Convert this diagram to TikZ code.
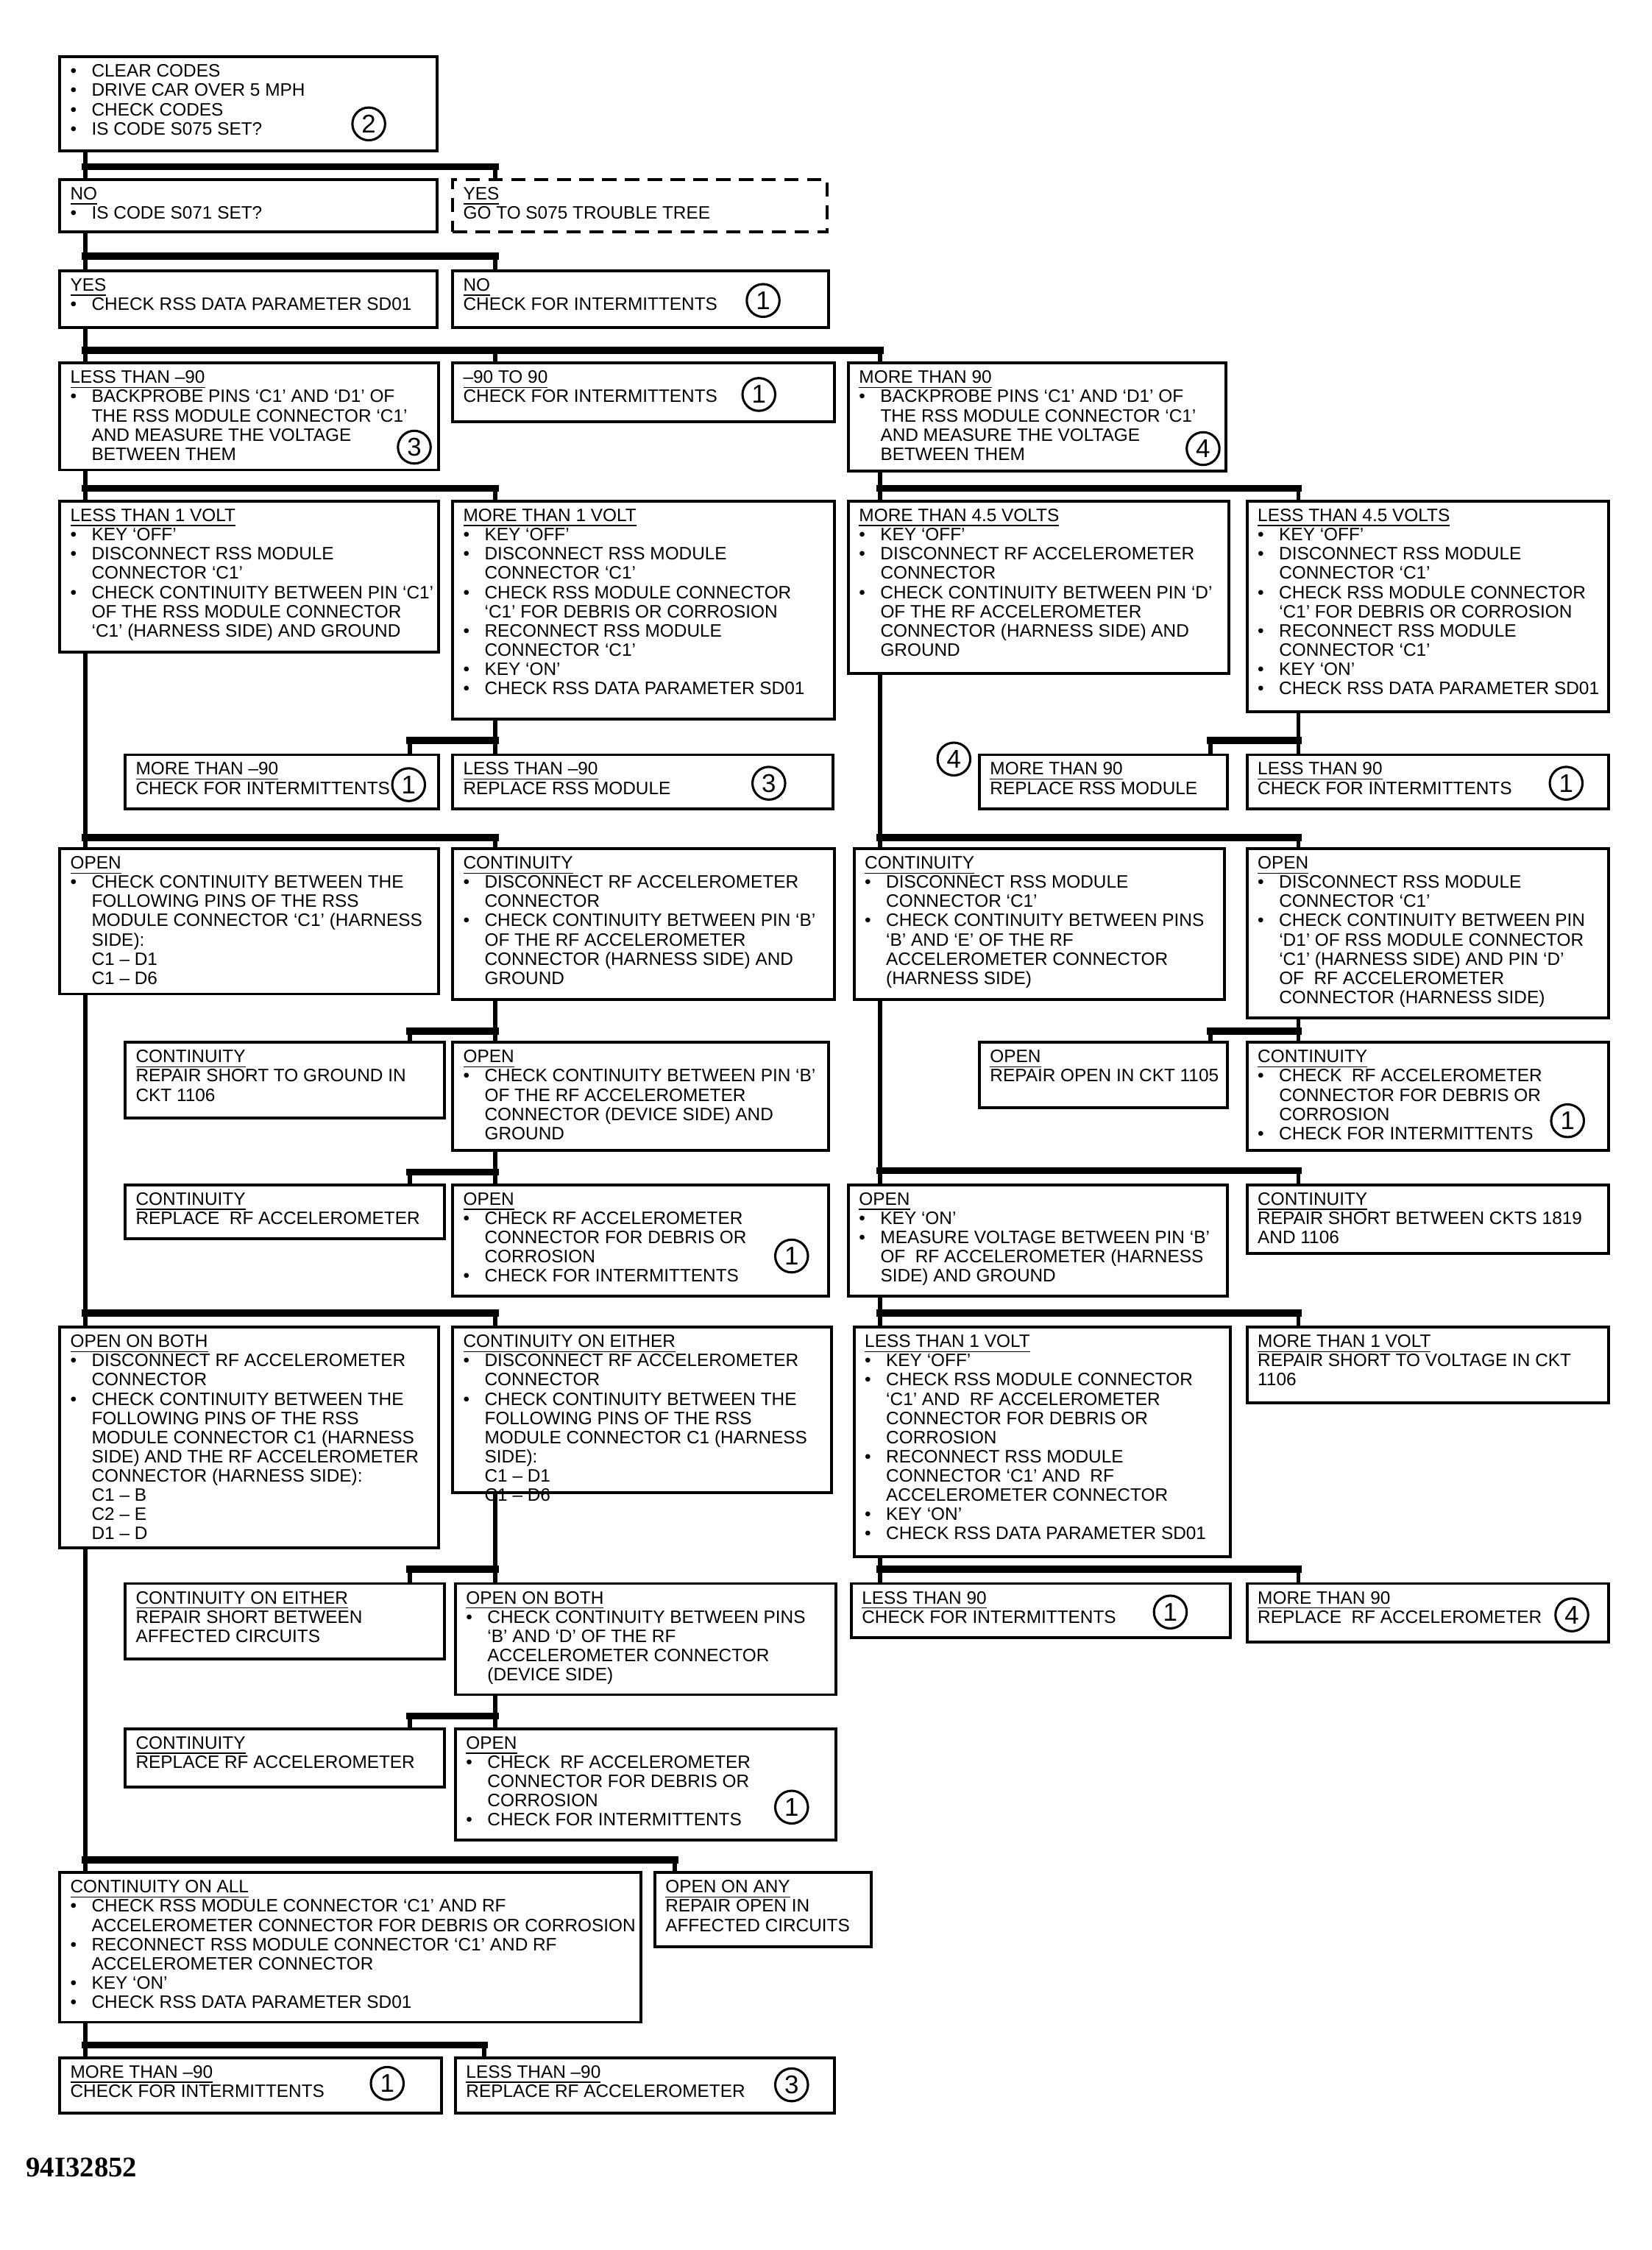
\documentclass[tikz,border=0pt]{standalone}
\usepackage{fontspec}
\setmainfont{Liberation Sans}
\newfontfamily\serifb{Liberation Serif}
\usetikzlibrary{fit}
\newcommand\bl{\makebox[7.5pt][l]{\textbullet}}
\newcommand\ct{\hspace*{7.5pt}}
\newcommand\hd[1]{\underline{#1}}
\newcommand\bx[7][]{%
  \coordinate (#2a) at (#3,#4);\coordinate (#2b) at (#5,#6);
  \node[box,#1,fit=(#2a)(#2b)] (#2) {};
  \node[txt] (#2t) at ([xshift=4pt,yshift=-3pt]#2.north west) {#7};}
\begin{document}
\begin{tikzpicture}[x=0.5pt,y=-0.5pt,
 box/.style={draw,line width=1pt,inner sep=0},
 txt/.style={inner sep=0,align=left,font=\fontsize{6.3}{6.75}\selectfont,anchor=north west},
 num/.style={circle,draw,line width=0.8pt,inner sep=0,minimum size=11.5pt,font=\fontsize{9}{9}\selectfont},
 vl/.style={line width=1.5pt},
 bar/.style={line width=2.5pt,line cap=rect}]
\useasboundingbox (0,0) rectangle (1160,1580);
\coordinate (cA) at (60,0);\coordinate (cB) at (348,0);\coordinate (cC) at (618,0);
\coordinate (cD) at (912,0);\coordinate (cBl) at (288,0);\coordinate (cDl) at (850,0);
\coordinate (cE) at (474,0);\coordinate (cF) at (340,0);

\bx{b1}{42}{40}{307}{106}{\bl CLEAR CODES\\\bl DRIVE CAR OVER 5 MPH\\\bl CHECK CODES\\\bl IS CODE S075 SET?}
\node[num] (n1) at (259,87) {2};
\bx{b2}{42}{126}{307}{163}{\hd{NO}\\\bl IS CODE S071 SET?}
\bx[dash pattern=on 5pt off 3pt]{b3}{318}{126}{581}{163}{\hd{YES}\\GO TO S075 TROUBLE TREE}
\bx{b4}{42}{190}{307}{230}{\hd{YES}\\\bl CHECK RSS DATA PARAMETER SD01}
\bx{b5}{318}{190}{582}{230}{\hd{NO}\\CHECK FOR INTERMITTENTS}
\node[num] (n2) at (536,211) {1};
\bx{b6}{42}{255}{308}{330}{\hd{LESS THAN --90}\\\bl BACKPROBE PINS `C1' AND `D1' OF\\\ct THE RSS MODULE CONNECTOR `C1'\\\ct AND MEASURE THE VOLTAGE\\\ct BETWEEN THEM}
\node[num] (n3) at (291,314) {3};
\bx{b7}{318}{255}{586}{296}{\hd{--90 TO 90}\\CHECK FOR INTERMITTENTS}
\node[num] (n4) at (533,277) {1};
\bx{b8}{596}{255}{861}{331}{\hd{MORE THAN 90}\\\bl BACKPROBE PINS `C1' AND `D1' OF\\\ct THE RSS MODULE CONNECTOR `C1'\\\ct AND MEASURE THE VOLTAGE\\\ct BETWEEN THEM}
\node[num] (n5) at (845,315) {4};
\bx{b9}{42}{352}{308}{458}{\hd{LESS THAN 1 VOLT}\\\bl KEY `OFF'\\\bl DISCONNECT RSS MODULE\\\ct CONNECTOR `C1'\\\bl CHECK CONTINUITY BETWEEN PIN `C1'\\\ct OF THE RSS MODULE CONNECTOR\\\ct `C1' (HARNESS SIDE) AND GROUND}
\bx{b10}{318}{352}{586}{505}{\hd{MORE THAN 1 VOLT}\\\bl KEY `OFF'\\\bl DISCONNECT RSS MODULE\\\ct CONNECTOR `C1'\\\bl CHECK RSS MODULE CONNECTOR\\\ct `C1' FOR DEBRIS OR CORROSION\\\bl RECONNECT RSS MODULE\\\ct CONNECTOR `C1'\\\bl KEY `ON'\\\bl CHECK RSS DATA PARAMETER SD01}
\bx{b11}{596}{352}{863}{473}{\hd{MORE THAN 4.5 VOLTS}\\\bl KEY `OFF'\\\bl DISCONNECT RF ACCELEROMETER\\\ct CONNECTOR\\\bl CHECK CONTINUITY BETWEEN PIN `D'\\\ct OF THE RF ACCELEROMETER\\\ct CONNECTOR (HARNESS SIDE) AND\\\ct GROUND}
\bx{b12}{876}{352}{1130}{500}{\hd{LESS THAN 4.5 VOLTS}\\\bl KEY `OFF'\\\bl DISCONNECT RSS MODULE\\\ct CONNECTOR `C1'\\\bl CHECK RSS MODULE CONNECTOR\\\ct `C1' FOR DEBRIS OR CORROSION\\\bl RECONNECT RSS MODULE\\\ct CONNECTOR `C1'\\\bl KEY `ON'\\\bl CHECK RSS DATA PARAMETER SD01}
\bx{b13}{88}{530}{308}{568}{\hd{MORE THAN --90}\\CHECK FOR INTERMITTENTS}
\node[num] (n6) at (287,551) {1};
\bx{b14}{318}{530}{585}{568}{\hd{LESS THAN --90}\\REPLACE RSS MODULE}
\node[num] (n7) at (540,550) {3};
\bx{b15}{688}{530}{862}{568}{\hd{MORE THAN 90}\\REPLACE RSS MODULE}
\node[num] (n8) at (670,533) {4};
\bx{b16}{876}{530}{1130}{568}{\hd{LESS THAN 90}\\CHECK FOR INTERMITTENTS}
\node[num] (n9) at (1100,550) {1};
\bx{b17}{42}{596}{308}{698}{\hd{OPEN}\\\bl CHECK CONTINUITY BETWEEN THE\\\ct FOLLOWING PINS OF THE RSS\\\ct MODULE CONNECTOR `C1' (HARNESS\\\ct SIDE):\\\ct C1 -- D1\\\ct C1 -- D6}
\bx{b18}{318}{596}{586}{702}{\hd{CONTINUITY}\\\bl DISCONNECT RF ACCELEROMETER\\\ct CONNECTOR\\\bl CHECK CONTINUITY BETWEEN PIN `B'\\\ct OF THE RF ACCELEROMETER\\\ct CONNECTOR (HARNESS SIDE) AND\\\ct GROUND}
\bx{b19}{600}{596}{860}{702}{\hd{CONTINUITY}\\\bl DISCONNECT RSS MODULE\\\ct CONNECTOR `C1'\\\bl CHECK CONTINUITY BETWEEN PINS\\\ct `B' AND `E' OF THE RF\\\ct ACCELEROMETER CONNECTOR\\\ct (HARNESS SIDE)}
\bx{b20}{876}{596}{1130}{715}{\hd{OPEN}\\\bl DISCONNECT RSS MODULE\\\ct CONNECTOR `C1'\\\bl CHECK CONTINUITY BETWEEN PIN\\\ct `D1' OF RSS MODULE CONNECTOR\\\ct `C1' (HARNESS SIDE) AND PIN `D'\\\ct OF\ \ RF ACCELEROMETER\\\ct CONNECTOR (HARNESS SIDE)}
\bx{b21}{88}{732}{312}{785}{\hd{CONTINUITY}\\REPAIR SHORT TO GROUND IN\\CKT 1106}
\bx{b22}{318}{732}{582}{808}{\hd{OPEN}\\\bl CHECK CONTINUITY BETWEEN PIN `B'\\\ct OF THE RF ACCELEROMETER\\\ct CONNECTOR (DEVICE SIDE) AND\\\ct GROUND}
\bx{b23}{688}{732}{862}{778}{\hd{OPEN}\\REPAIR OPEN IN CKT 1105}
\bx{b24}{876}{732}{1130}{808}{\hd{CONTINUITY}\\\bl CHECK\ \ RF ACCELEROMETER\\\ct CONNECTOR FOR DEBRIS OR\\\ct CORROSION\\\bl CHECK FOR INTERMITTENTS}
\node[num] (n10) at (1101,787) {1};
\bx{b25}{88}{832}{312}{870}{\hd{CONTINUITY}\\REPLACE\ \ RF ACCELEROMETER}
\bx{b26}{318}{832}{582}{910}{\hd{OPEN}\\\bl CHECK RF ACCELEROMETER\\\ct CONNECTOR FOR DEBRIS OR\\\ct CORROSION\\\bl CHECK FOR INTERMITTENTS}
\node[num] (n11) at (556,882) {1};
\bx{b27}{596}{832}{862}{910}{\hd{OPEN}\\\bl KEY `ON'\\\bl MEASURE VOLTAGE BETWEEN PIN `B'\\\ct OF\ \ RF ACCELEROMETER (HARNESS\\\ct SIDE) AND GROUND}
\bx{b28}{876}{832}{1130}{880}{\hd{CONTINUITY}\\REPAIR SHORT BETWEEN CKTS 1819\\AND 1106}
\bx{b29}{42}{932}{308}{1087}{\hd{OPEN ON BOTH}\\\bl DISCONNECT RF ACCELEROMETER\\\ct CONNECTOR\\\bl CHECK CONTINUITY BETWEEN THE\\\ct FOLLOWING PINS OF THE RSS\\\ct MODULE CONNECTOR C1 (HARNESS\\\ct SIDE) AND THE RF ACCELEROMETER\\\ct CONNECTOR (HARNESS SIDE):\\\ct C1 -- B\\\ct C2 -- E\\\ct D1 -- D}
\bx{b30}{318}{932}{584}{1048}{\hd{CONTINUITY ON EITHER}\\\bl DISCONNECT RF ACCELEROMETER\\\ct CONNECTOR\\\bl CHECK CONTINUITY BETWEEN THE\\\ct FOLLOWING PINS OF THE RSS\\\ct MODULE CONNECTOR C1 (HARNESS\\\ct SIDE):\\\ct C1 -- D1\\\ct C1 -- D6}
\bx{b31}{600}{932}{864}{1093}{\hd{LESS THAN 1 VOLT}\\\bl KEY `OFF'\\\bl CHECK RSS MODULE CONNECTOR\\\ct `C1' AND\ \ RF ACCELEROMETER\\\ct CONNECTOR FOR DEBRIS OR\\\ct CORROSION\\\bl RECONNECT RSS MODULE\\\ct CONNECTOR `C1' AND\ \ RF\\\ct ACCELEROMETER CONNECTOR\\\bl KEY `ON'\\\bl CHECK RSS DATA PARAMETER SD01}
\bx{b32}{876}{932}{1130}{985}{\hd{MORE THAN 1 VOLT}\\REPAIR SHORT TO VOLTAGE IN CKT\\1106}
\bx{b33}{88}{1112}{312}{1165}{\hd{CONTINUITY ON EITHER}\\REPAIR SHORT BETWEEN\\AFFECTED CIRCUITS}
\bx{b34}{320}{1112}{587}{1190}{\hd{OPEN ON BOTH}\\\bl CHECK CONTINUITY BETWEEN PINS\\\ct `B' AND `D' OF THE RF\\\ct ACCELEROMETER CONNECTOR\\\ct (DEVICE SIDE)}
\bx{b35}{598}{1112}{864}{1150}{\hd{LESS THAN 90}\\CHECK FOR INTERMITTENTS}
\node[num] (n12) at (822,1132) {1};
\bx{b36}{876}{1112}{1130}{1153}{\hd{MORE THAN 90}\\REPLACE\ \ RF ACCELEROMETER}
\node[num] (n13) at (1104,1134) {4};
\bx{b37}{88}{1214}{312}{1255}{\hd{CONTINUITY}\\REPLACE RF ACCELEROMETER}
\bx{b38}{320}{1214}{587}{1292}{\hd{OPEN}\\\bl CHECK\ \ RF ACCELEROMETER\\\ct CONNECTOR FOR DEBRIS OR\\\ct CORROSION\\\bl CHECK FOR INTERMITTENTS}
\node[num] (n14) at (556,1269) {1};
\bx{b39}{42}{1315}{450}{1420}{\hd{CONTINUITY ON ALL}\\\bl CHECK RSS MODULE CONNECTOR `C1' AND RF\\\ct ACCELEROMETER CONNECTOR FOR DEBRIS OR CORROSION\\\bl RECONNECT RSS MODULE CONNECTOR `C1' AND RF\\\ct ACCELEROMETER CONNECTOR\\\bl KEY `ON'\\\bl CHECK RSS DATA PARAMETER SD01}
\bx{b40}{460}{1315}{612}{1367}{\hd{OPEN ON ANY}\\REPAIR OPEN IN\\AFFECTED CIRCUITS}
\bx{b41}{42}{1445}{310}{1484}{\hd{MORE THAN --90}\\CHECK FOR INTERMITTENTS}
\node[num] (n15) at (272,1463) {1};
\bx{b42}{320}{1445}{586}{1484}{\hd{LESS THAN --90}\\REPLACE RF ACCELEROMETER}
\node[num] (n16) at (556,1464) {3};
\node[anchor=west,inner sep=0,font=\serifb\bfseries\fontsize{10}{10}\selectfont] (lbl) at (18,1522) {94I32852};

% connectors
\draw[vl] (b1.south -| cA) -- (b2.north -| cA);
\draw[bar] (60,117) -- (348,117); \draw[vl] (348,117) -- (b3.north -| cB);
\draw[vl] (b2.south -| cA) -- (b4.north -| cA);
\draw[bar] (60,180) -- (348,180); \draw[vl] (348,180) -- (b5.north -| cB);
\draw[vl] (b4.south -| cA) -- (b6.north -| cA);
\draw[bar] (60,246) -- (618,246); \draw[vl] (348,246) -- (b7.north -| cB); \draw[vl] (618,246) -- (b8.north -| cC);
\draw[vl] (b6.south -| cA) -- (b9.north -| cA);
\draw[bar] (60,343) -- (348,343); \draw[vl] (348,343) -- (b10.north -| cB);
\draw[vl] (b8.south -| cC) -- (b11.north -| cC);
\draw[bar] (618,343) -- (912,343); \draw[vl] (912,343) -- (b12.north -| cD);
\draw[vl] (b10.south -| cB) -- (b14.north -| cB);
\draw[bar] (288,520) -- (348,520); \draw[vl] (288,520) -- (b13.north -| cBl);
\draw[vl] (b12.south -| cD) -- (b16.north -| cD);
\draw[bar] (850,520) -- (912,520); \draw[vl] (850,520) -- (b15.north -| cDl);
\draw[vl] (b9.south -| cA) -- (b17.north -| cA);
\draw[bar] (60,588) -- (348,588); \draw[vl] (348,588) -- (b18.north -| cB);
\draw[vl] (b11.south -| cC) -- (b19.north -| cC);
\draw[bar] (618,588) -- (912,588); \draw[vl] (912,588) -- (b20.north -| cD);
\draw[vl] (b18.south -| cB) -- (b22.north -| cB);
\draw[bar] (288,724) -- (348,724); \draw[vl] (288,724) -- (b21.north -| cBl);
\draw[vl] (b20.south -| cD) -- (b24.north -| cD);
\draw[bar] (850,724) -- (912,724); \draw[vl] (850,724) -- (b23.north -| cDl);
\draw[vl] (b22.south -| cB) -- (b26.north -| cB);
\draw[bar] (288,823) -- (348,823); \draw[vl] (288,823) -- (b25.north -| cBl);
\draw[vl] (b19.south -| cC) -- (b27.north -| cC);
\draw[bar] (618,822) -- (912,822); \draw[vl] (912,822) -- (b28.north -| cD);
\draw[vl] (b17.south -| cA) -- (b29.north -| cA);
\draw[bar] (60,922) -- (348,922); \draw[vl] (348,922) -- (b30.north -| cB);
\draw[vl] (b27.south -| cC) -- (b31.north -| cC);
\draw[bar] (618,922) -- (912,922); \draw[vl] (912,922) -- (b32.north -| cD);
\draw[vl] (b30.south -| cB) -- (b34.north -| cB);
\draw[bar] (288,1102) -- (348,1102); \draw[vl] (288,1102) -- (b33.north -| cBl);
\draw[vl] (b31.south -| cC) -- (b35.north -| cC);
\draw[bar] (618,1102) -- (912,1102); \draw[vl] (912,1102) -- (b36.north -| cD);
\draw[vl] (b34.south -| cB) -- (b38.north -| cB);
\draw[bar] (288,1205) -- (348,1205); \draw[vl] (288,1205) -- (b37.north -| cBl);
\draw[vl] (b29.south -| cA) -- (b39.north -| cA);
\draw[bar] (60,1306) -- (474,1306); \draw[vl] (474,1306) -- (b40.north -| cE);
\draw[vl] (b39.south -| cA) -- (b41.north -| cA);
\draw[bar] (60,1436) -- (340,1436); \draw[vl] (340,1436) -- (b42.north -| cF);
\end{tikzpicture}
\end{document}
